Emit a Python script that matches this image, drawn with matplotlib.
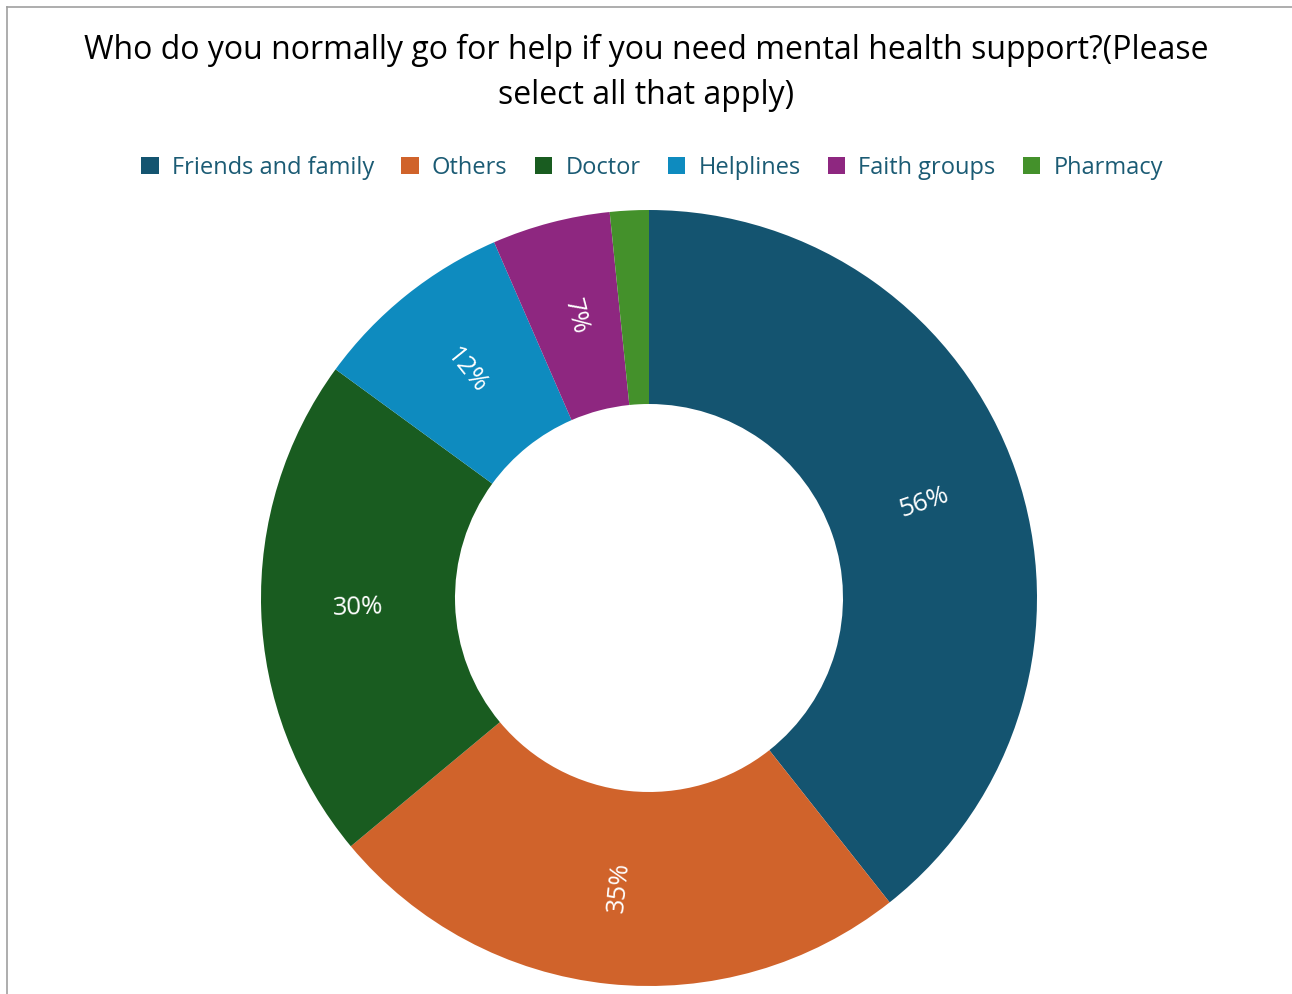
import numpy as np
import matplotlib
matplotlib.use("Agg")
from matplotlib import pyplot as plt
from matplotlib.patches import Patch
from matplotlib.lines import Line2D

# Data
categories = ["Friends and family", "Others", "Doctor", "Helplines", "Faith groups", "Pharmacy"]
values = [56, 35, 30, 12, 7, 2.3]
labels = ["56%", "35%", "30%", "12%", "7%", ""]
colors = ["#145470", "#D0632B", "#195C20", "#0E8BBF", "#8E2780", "#44912B"]

TITLE = "Who do you normally go for help if you need mental health support?(Please\nselect all that apply)"
FONT = ["Open Sans", "DejaVu Sans"]

W, H = 1292, 994
fig = plt.figure(figsize=(W / 100, H / 100), dpi=100)

# donut centre and radius in pixels
cx, cy, r = 649, 598, 388
ax = fig.add_axes([(cx - r) / W, (H - cy - r) / H, 2 * r / W, 2 * r / H])

wedges, _ = ax.pie(values, colors=colors, startangle=90, counterclock=False,
                   radius=1, wedgeprops=dict(width=0.5, linewidth=0))
# pie sets its own limits, so put them back afterwards
ax.set_xlim(-1, 1)
ax.set_ylim(-1, 1)
ax.set_aspect("equal")
ax.axis("off")

# radial labels in the middle of the ring
rmid = 0.75
for w, lab in zip(wedges, labels):
    if not lab:
        continue
    ang = (w.theta1 + w.theta2) / 2
    x = rmid * np.cos(np.radians(ang))
    y = rmid * np.sin(np.radians(ang))
    rot = ang % 360
    if rot > 90 and rot < 270:
        rot -= 180
    if rot >= 270:
        rot -= 360
    ax.text(x, y, lab, ha="center", va="center", rotation=rot,
            rotation_mode="anchor", color="white", fontsize=18.5, family=FONT)

# title
fig.text(0.5, 1 - 73 / H, TITLE, ha="center", va="center", fontsize=23,
         family=FONT, linespacing=1.45)

# legend
handles = [Patch(facecolor=c, edgecolor="none") for c in colors]
leg = fig.legend(handles, categories, loc="center", bbox_to_anchor=(652 / W, 1 - 168 / H),
                 ncol=6, frameon=False, handlelength=0.75, handleheight=0.75,
                 handletextpad=0.55, columnspacing=1.15,
                 prop={"family": FONT, "size": 17})
for t in leg.get_texts():
    t.set_color("#1B5B74")

# left and top border of the chart frame
fig.add_artist(Line2D([7 / W, 7 / W], [0, 1 - 7 / H], color="#A0A0A0", lw=1.2))
fig.add_artist(Line2D([7 / W, 1], [1 - 7 / H, 1 - 7 / H], color="#A0A0A0", lw=1.2))

fig.savefig("out.png", dpi=100)
